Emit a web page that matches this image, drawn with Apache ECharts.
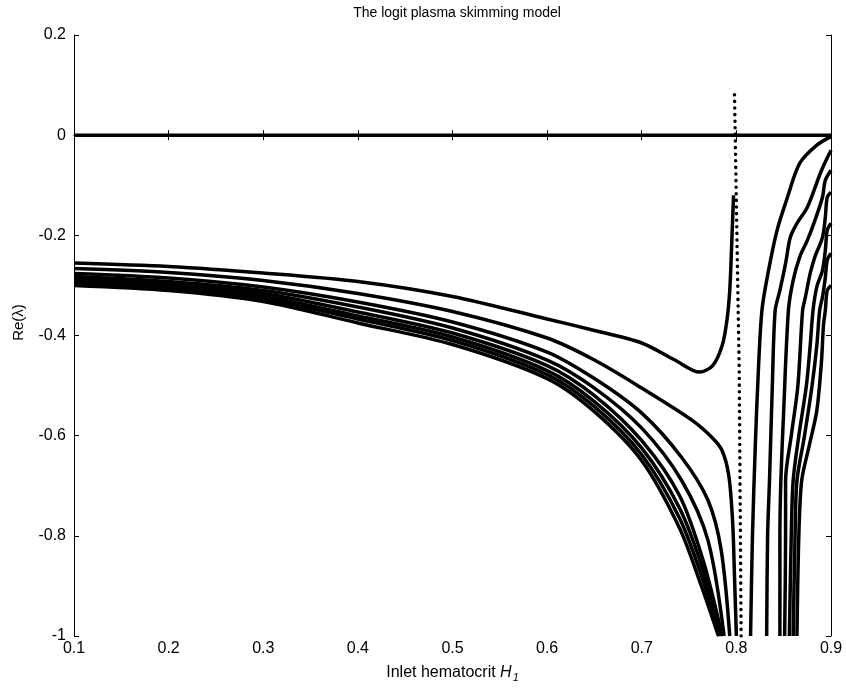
<!DOCTYPE html>
<html>
<head>
<meta charset="utf-8">
<script src="https://cdn.jsdelivr.net/npm/echarts@6/dist/echarts.min.js"></script>
<style>
	html, body { margin: 0; padding: 0; background: #fff; }
	#chart { width: 846px; height: 690px; }
</style>
</head>
<body>
<div id="chart"></div>
<script>
// Re(lambda) branches left of the singularity, [H1, Re] pairs
const left1 = [ [ 0.1, -0.255 ], [ 0.2, -0.262 ], [ 0.3, -0.275 ], [ 0.4, -0.292 ], [ 0.5, -0.322 ], [ 0.6, -0.367 ], [ 0.65, -0.39 ], [ 0.7, -0.415 ], [ 0.735, -0.449 ], [ 0.761, -0.473 ], [ 0.775, -0.46 ], [ 0.785, -0.42 ], [ 0.79, -0.37 ], [ 0.793, -0.31 ], [ 0.795, -0.22 ], [ 0.797, -0.12 ] ];
const left2 = [ [ 0.1, -0.266 ], [ 0.2, -0.274 ], [ 0.3, -0.29 ], [ 0.4, -0.316 ], [ 0.5, -0.352 ], [ 0.6, -0.405 ], [ 0.65, -0.449 ], [ 0.7, -0.505 ], [ 0.753, -0.569 ], [ 0.775, -0.605 ], [ 0.785, -0.63 ], [ 0.792, -0.68 ], [ 0.796, -0.77 ], [ 0.798, -0.88 ], [ 0.8, -1 ] ];
const left3 = [ [ 0.1, -0.276 ], [ 0.2, -0.285 ], [ 0.3, -0.303 ], [ 0.4, -0.333 ], [ 0.5, -0.373 ], [ 0.6, -0.433 ], [ 0.65, -0.486 ], [ 0.7, -0.555 ], [ 0.742, -0.643 ], [ 0.77, -0.729 ], [ 0.784, -0.829 ], [ 0.793, -1 ] ];
const left4 = [ [ 0.1, -0.282 ], [ 0.2, -0.292 ], [ 0.3, -0.31 ], [ 0.4, -0.343 ], [ 0.5, -0.385 ], [ 0.6, -0.449 ], [ 0.65, -0.505 ], [ 0.7, -0.585 ], [ 0.742, -0.689 ], [ 0.77, -0.809 ], [ 0.787, -1 ] ];
const left5 = [ [ 0.1, -0.287 ], [ 0.2, -0.297 ], [ 0.3, -0.316 ], [ 0.4, -0.353 ], [ 0.5, -0.395 ], [ 0.6, -0.46 ], [ 0.65, -0.52 ], [ 0.7, -0.61 ], [ 0.74, -0.72 ], [ 0.765, -0.85 ], [ 0.785, -1 ] ];
const left6 = [ [ 0.1, -0.292 ], [ 0.2, -0.302 ], [ 0.3, -0.322 ], [ 0.4, -0.361 ], [ 0.5, -0.403 ], [ 0.6, -0.47 ], [ 0.65, -0.532 ], [ 0.7, -0.625 ], [ 0.74, -0.745 ], [ 0.765, -0.87 ], [ 0.783, -1 ] ];
const left7 = [ [ 0.1, -0.296 ], [ 0.2, -0.306 ], [ 0.3, -0.327 ], [ 0.4, -0.367 ], [ 0.5, -0.41 ], [ 0.6, -0.478 ], [ 0.65, -0.542 ], [ 0.7, -0.638 ], [ 0.74, -0.765 ], [ 0.765, -0.89 ], [ 0.782, -1 ] ];
const left8 = [ [ 0.1, -0.3 ], [ 0.2, -0.31 ], [ 0.3, -0.332 ], [ 0.4, -0.375 ], [ 0.5, -0.418 ], [ 0.6, -0.486 ], [ 0.65, -0.552 ], [ 0.7, -0.65 ], [ 0.74, -0.785 ], [ 0.763, -0.9 ], [ 0.781, -1 ] ];

// branches right of the singularity
const right1 = [ [ 0.815, -1 ], [ 0.817, -0.8 ], [ 0.82, -0.62 ], [ 0.823, -0.48 ], [ 0.827, -0.35 ], [ 0.834, -0.27 ], [ 0.843, -0.19 ], [ 0.854, -0.124 ], [ 0.867, -0.056 ], [ 0.885, -0.02 ], [ 0.9, -0.003 ] ];
const right2 = [ [ 0.832, -1 ], [ 0.833, -0.8 ], [ 0.835, -0.69 ], [ 0.838, -0.5 ], [ 0.841, -0.35 ], [ 0.846, -0.31 ], [ 0.852, -0.256 ], [ 0.857, -0.204 ], [ 0.864, -0.176 ], [ 0.875, -0.144 ], [ 0.89, -0.07 ], [ 0.9, -0.03 ] ];
const right3 = [ [ 0.846, -1 ], [ 0.846, -0.8 ], [ 0.847, -0.69 ], [ 0.85, -0.55 ], [ 0.855, -0.35 ], [ 0.86, -0.29 ], [ 0.867, -0.243 ], [ 0.875, -0.21 ], [ 0.883, -0.17 ], [ 0.891, -0.124 ], [ 0.894, -0.09 ], [ 0.9, -0.07 ] ];
const right4 = [ [ 0.851, -1 ], [ 0.852, -0.8 ], [ 0.852, -0.69 ], [ 0.858, -0.6 ], [ 0.865, -0.5 ], [ 0.87, -0.35 ], [ 0.873, -0.323 ], [ 0.878, -0.276 ], [ 0.883, -0.243 ], [ 0.891, -0.204 ], [ 0.894, -0.164 ], [ 0.896, -0.124 ], [ 0.9, -0.114 ] ];
const right5 = [ [ 0.856, -1 ], [ 0.858, -0.8 ], [ 0.86, -0.69 ], [ 0.866, -0.6 ], [ 0.874, -0.5 ], [ 0.878, -0.42 ], [ 0.881, -0.35 ], [ 0.885, -0.303 ], [ 0.891, -0.27 ], [ 0.894, -0.23 ], [ 0.896, -0.19 ], [ 0.9, -0.176 ] ];
const right6 = [ [ 0.86, -1 ], [ 0.862, -0.8 ], [ 0.864, -0.69 ], [ 0.872, -0.6 ], [ 0.88, -0.5 ], [ 0.885, -0.42 ], [ 0.888, -0.35 ], [ 0.891, -0.323 ], [ 0.894, -0.284 ], [ 0.896, -0.25 ], [ 0.9, -0.236 ] ];
const right7 = [ [ 0.864, -1 ], [ 0.866, -0.8 ], [ 0.869, -0.69 ], [ 0.877, -0.62 ], [ 0.885, -0.55 ], [ 0.89, -0.45 ], [ 0.892, -0.38 ], [ 0.894, -0.35 ], [ 0.896, -0.31 ], [ 0.9, -0.3 ] ];

// neutral eigenvalue and the dotted spike at the singularity
const zeroBranch = [ [ 0.1, 0 ], [ 0.9, 0 ] ];
const spike = [ [ 0.805, -1 ], [ 0.803, -0.47 ], [ 0.798, 0.086 ] ];

const xTicks = { min: 0.1, max: 0.9, interval: 0.1 };
const yTicks = { min: -1, max: 0.2, interval: 0.2 };

const font = 'Liberation Sans, Arial, sans-serif';
const chart = echarts.init( document.getElementById( 'chart' ), null, { renderer: 'canvas' } );

const curveSeries = [ left1, left2, left3, left4, left5, left6, left7, left8,
	right1, right2, right3, right4, right5, right6, right7, zeroBranch ].map( ( data ) => ( {
	type: 'line',
	data: data,
	smooth: 0.3,
	showSymbol: false,
	silent: true,
	lineStyle: { color: '#000', width: 3.5 },
	clip: true
} ) );

curveSeries.push( {
	type: 'line',
	data: spike,
	showSymbol: false,
	silent: true,
	lineStyle: { color: '#000', width: 3.5, type: [ 0.1, 6.5 ], cap: 'round' }
} );

const axisBox = {
	axisLine: { show: true, lineStyle: { color: '#000', width: 1 } },
	axisTick: { show: true, inside: true, length: 5, lineStyle: { color: '#000' } },
	splitLine: { show: false }
};

chart.setOption( {
	animation: false,
	title: {
		text: 'The logit plasma skimming model',
		left: 452,
		top: 1,
		textAlign: 'center',
		textStyle: { fontFamily: font, fontSize: 14, fontWeight: 'normal', color: '#000' }
	},
	grid: { left: 74, right: 15, top: 35, bottom: 54 },
	xAxis: [
		Object.assign( {
			type: 'value',
			position: 'bottom',
			min: xTicks.min,
			max: xTicks.max,
			interval: xTicks.interval,
			name: 'Inlet hematocrit {i|H}{s|1}',
			nameLocation: 'middle',
			nameGap: 26,
			nameTextStyle: {
				fontFamily: font, fontSize: 16, color: '#000',
				rich: {
					i: { fontFamily: font, fontSize: 16, fontStyle: 'italic', color: '#000' },
					s: { fontFamily: font, fontSize: 11, fontStyle: 'italic', color: '#000', verticalAlign: 'bottom', padding: [ 10, 0, 0, 1 ] }
				}
			},
			axisLabel: { fontFamily: font, fontSize: 16, color: '#000', margin: 5 }
		}, axisBox ),
		Object.assign( {
			type: 'value',
			position: 'top',
			min: xTicks.min,
			max: xTicks.max,
			interval: xTicks.interval,
			axisLabel: { show: false }
		}, axisBox )
	],
	yAxis: [
		Object.assign( {
			type: 'value',
			position: 'left',
			min: yTicks.min,
			max: yTicks.max,
			interval: yTicks.interval,
			name: 'Re(λ)',
			nameLocation: 'middle',
			nameGap: 48,
			nameTextStyle: { fontFamily: font, fontSize: 15, color: '#000', padding: [ 0, 0, 0, 26 ] },
			axisLabel: { fontFamily: font, fontSize: 16, color: '#000', margin: 8 }
		}, axisBox ),
		Object.assign( {
			type: 'value',
			position: 'right',
			min: yTicks.min,
			max: yTicks.max,
			interval: yTicks.interval,
			axisLabel: { show: false }
		}, axisBox )
	],
	series: curveSeries
} );
</script>
</body>
</html>
